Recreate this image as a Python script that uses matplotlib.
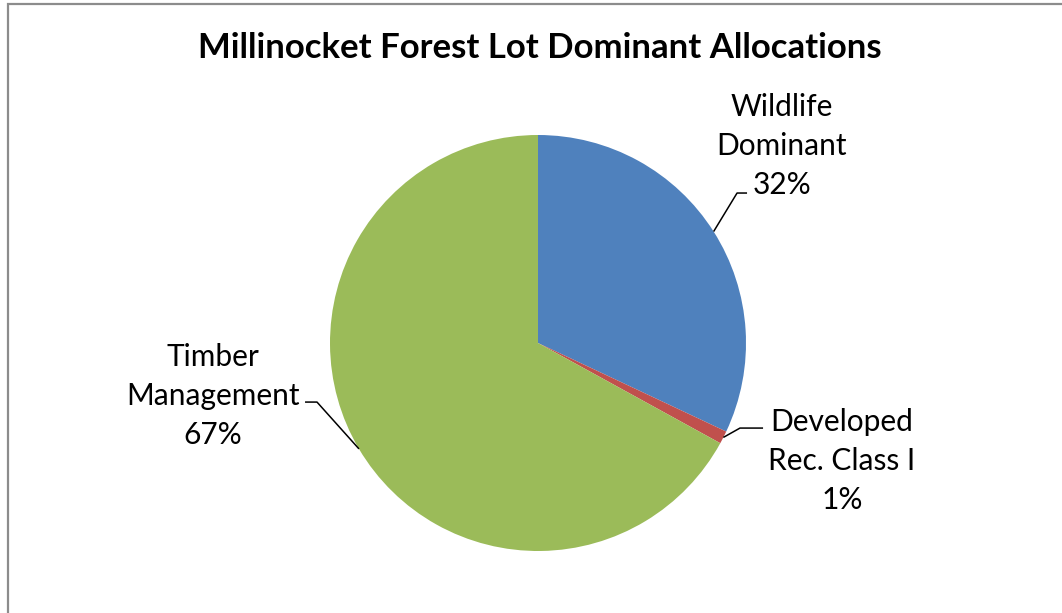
import numpy as np
import matplotlib
matplotlib.use("Agg")
import matplotlib.pyplot as plt
from matplotlib.patches import Rectangle

# Allocation shares (percent)
categories = ["Wildlife\nDominant", "Developed\nRec. Class I", "Timber\nManagement"]
shares = [32, 1, 67]
colors = ["#4F81BD", "#C0504D", "#9BBB59"]
title = "Millinocket Forest Lot Dominant Allocations"

plt.rcParams["font.family"] = ["Lato", "DejaVu Sans"]

W, H = 1062, 613
fig = plt.figure(figsize=(W / 100, H / 100), dpi=100)
fig.patch.set_facecolor("white")

# chart frame (top-left corner visible)
fig.add_artist(Rectangle((7.5 / W, -0.2), 1.5, 1.2 - 3.5 / H,
                         transform=fig.transFigure, fill=False,
                         edgecolor="#8c8c8c", linewidth=1.6, clip_on=False))

cx, cy, r = 538, 343, 208
ax = fig.add_axes([(cx - r) / W, (H - cy - r) / H, 2 * r / W, 2 * r / H])
wedges, _ = ax.pie(shares, colors=colors, startangle=90, counterclock=False,
                   radius=1.0, wedgeprops=dict(linewidth=0))
ax.set_xlim(-1, 1)
ax.set_ylim(-1, 1)
ax.set_aspect("equal")
ax.axis("off")

# label block centres and leader elbows, in pie-radius units
label_pos = [(1.173, 0.947), (1.4615, -0.567), (-1.5625, -0.255)]
elbows = [((0.957, 0.721), (1.005, 0.721)),
          ((0.971, -0.409), (1.082, -0.409)),
          ((-1.0625, -0.284), (-1.12, -0.284))]

for w, cat, val, (lx, ly), (e1, e2) in zip(wedges, categories, shares,
                                           label_pos, elbows):
    mid = np.deg2rad((w.theta1 + w.theta2) / 2)
    px, py = np.cos(mid), np.sin(mid)
    ax.plot([px, e1[0], e2[0]], [py, e1[1], e2[1]], color="black",
            linewidth=1.1, clip_on=False, solid_capstyle="butt")
    ax.text(lx, ly, f"{cat}\n{val}%", ha="center", va="center",
            fontsize=21.5, linespacing=1.48, color="black")

fig.text(540 / W, 1 - 48 / H, title, ha="center", va="center",
         fontsize=25, fontweight="bold", color="black")

fig.savefig("out.png", dpi=100, facecolor="white")
